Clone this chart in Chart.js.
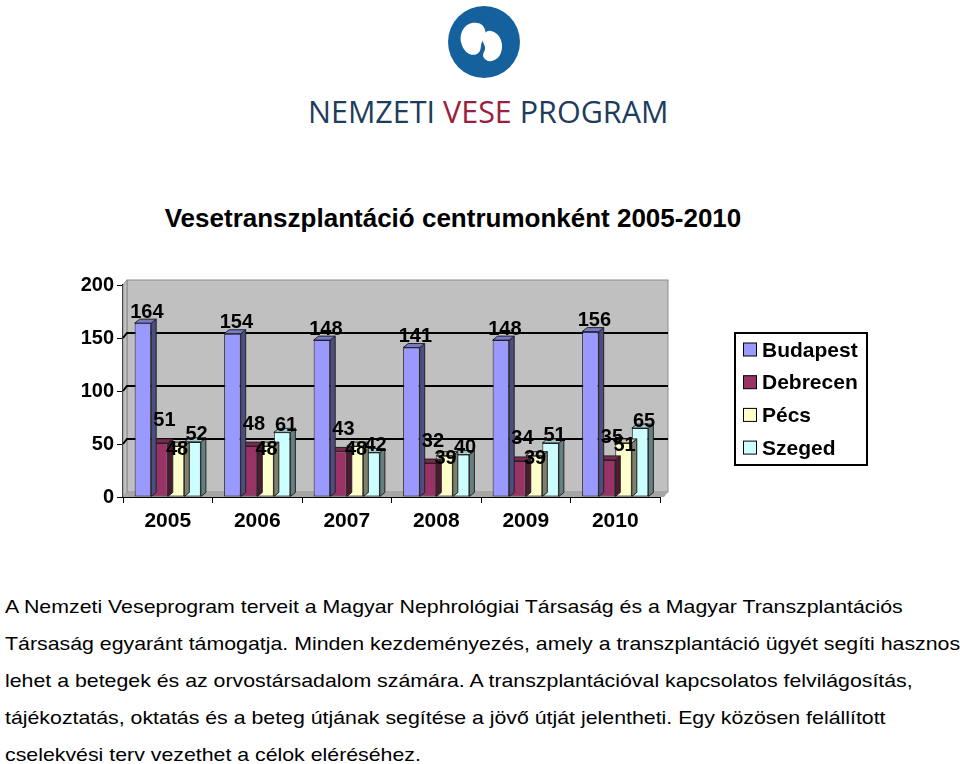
<!DOCTYPE html>
<html>
<head>
<meta charset="utf-8">
<script src="https://cdn.jsdelivr.net/npm/chart.js@4.4.1/dist/chart.umd.min.js"></script>
<style>
  html, body { margin: 0; padding: 0; background: #fff; }
  body { width: 960px; height: 764px; position: relative; overflow: hidden; font-family: "Liberation Sans", Arial, sans-serif; }
  #logo { position: absolute; left: 0; top: 0; }
  #title { position: absolute; left: 0; width: 906px; top: 203px; text-align: center; font-weight: bold; font-size: 26px; color: #000; }
  #chartBox { position: absolute; left: 0; top: 240px; width: 960px; height: 300px; }
  #txt { position: absolute; left: 5px; top: 588px; font-size: 19px; line-height: 37px; color: #000; white-space: pre; transform: scaleX(1.122); transform-origin: 0 0; }
</style>
</head>
<body>
<svg id="logo" width="960" height="140">
  <circle cx="484" cy="42" r="36" fill="#14619e"/>
  <path d="M477 23 C466 21,459 32,461 42 C463 52,471 57,477 54 C482 51,480 46,482 42 C484 38,487 35,485 30 C484 26,481 23,477 23 Z" fill="#fff"/>
  <path d="M491 31 C501 33,505 46,500 55 C496 62,487 63,484 58 C481 54,486 51,485 47 C484 43,481 40,483 36 C485 32,488 30,491 31 Z" fill="#fff"/>
  <text x="308" y="123" font-family="Open Sans, Lato, sans-serif" font-size="30.5" fill="#1e3d5c">NEMZETI <tspan fill="#9b2040">VESE</tspan> PROGRAM</text>
</svg>
<div id="title">Vesetranszplantáció centrumonként 2005-2010</div>
<div id="chartBox"><canvas id="c" width="960" height="300"></canvas></div>
<div id="txt">A Nemzeti Veseprogram terveit a Magyar Nephrológiai Társaság és a Magyar Transzplantációs
Társaság egyaránt támogatja. Minden kezdeményezés, amely a transzplantáció ügyét segíti hasznos
lehet a betegek és az orvostársadalom számára. A transzplantációval kapcsolatos felvilágosítás,
tájékoztatás, oktatás és a beteg útjának segítése a jövő útját jelentheti. Egy közösen felállított
cselekvési terv vezethet a célok eléréséhez.</div>
<script>
const years = ['2005', '2006', '2007', '2008', '2009', '2010'];
const budapest = [164, 154, 148, 141, 148, 156];
const debrecen = [51, 48, 43, 32, 34, 35];
const pecs = [48, 48, 48, 39, 39, 51];
const szeged = [52, 61, 42, 40, 51, 65];
const yTicks = [0, 50, 100, 150, 200];

const FONT = '"Liberation Sans", Arial, sans-serif';
// front, side, top colour per centre + label offset (Excel places them a bit oddly)
const looks = [
  { front: '#9999ff', side: '#4d4d80', top: '#7a7acc', lx: 4, ly: -11 },
  { front: '#993366', side: '#4d1a33', top: '#7a2952', lx: 5, ly: -22 },
  { front: '#ffffcc', side: '#80806a', top: '#ccccaa', lx: 1, ly: 3 },
  { front: '#ccffff', side: '#668080', top: '#a3cccc', lx: 4, ly: -7 }
];
const DX = 5, DY = 4;

// back wall, floor and grid of the 3D plot
const wallPlugin = {
  id: 'wall',
  beforeDatasetsDraw(chart) {
    const { ctx, chartArea: a, scales: { y } } = chart;
    const wx = 4, wy = 5;
    ctx.save();
    ctx.fillStyle = '#c0c0c0';
    ctx.strokeStyle = '#8c8c8c';
    ctx.lineWidth = 1;
    ctx.fillRect(a.left + wx, a.top - wy, a.right + 8 - a.left - wx, a.bottom - a.top);
    ctx.strokeRect(a.left + wx, a.top - wy, a.right + 8 - a.left - wx, a.bottom - a.top);
    ctx.beginPath();
    ctx.moveTo(a.left, a.top); ctx.lineTo(a.left + wx, a.top - wy);
    ctx.lineTo(a.left + wx, a.bottom - wy); ctx.lineTo(a.left, a.bottom); ctx.closePath();
    ctx.fill(); ctx.stroke();
    ctx.fillStyle = '#a6a6a6';
    ctx.beginPath();
    ctx.moveTo(a.left, a.bottom); ctx.lineTo(a.left + wx, a.bottom - wy);
    ctx.lineTo(a.right + 8, a.bottom - wy); ctx.lineTo(a.right + 4, a.bottom); ctx.closePath();
    ctx.fill();
    ctx.strokeStyle = '#000';
    ctx.lineWidth = 2;
    yTicks.filter(v => v > 0 && v < 200).forEach(v => {
      const py = y.getPixelForValue(v);
      ctx.beginPath();
      ctx.moveTo(a.left, py); ctx.lineTo(a.left + wx, py - wy); ctx.lineTo(a.right + 8, py - wy);
      ctx.stroke();
    });
    ctx.restore();
  },
  afterDatasetDraw(chart, args) {
    const { ctx } = chart;
    const lk = looks[args.index];
    ctx.save();
    ctx.strokeStyle = '#222';
    ctx.lineWidth = 1;
    args.meta.data.forEach(bar => {
      const { x, y, base, width } = bar.getProps(['x', 'y', 'base', 'width'], true);
      const l = x - width / 2, r = x + width / 2;
      ctx.fillStyle = lk.side;
      ctx.beginPath();
      ctx.moveTo(r, y); ctx.lineTo(r + DX, y - DY); ctx.lineTo(r + DX, base - DY); ctx.lineTo(r, base); ctx.closePath();
      ctx.fill(); ctx.stroke();
      ctx.fillStyle = lk.top;
      ctx.beginPath();
      ctx.moveTo(l, y); ctx.lineTo(l + DX, y - DY); ctx.lineTo(r + DX, y - DY); ctx.lineTo(r, y); ctx.closePath();
      ctx.fill(); ctx.stroke();
    });
    ctx.restore();
  },
  afterDatasetsDraw(chart) {
    const { ctx } = chart;
    ctx.save();
    ctx.font = 'bold 20px ' + FONT;
    ctx.fillStyle = '#000';
    ctx.textAlign = 'center';
    ctx.textBaseline = 'middle';
    chart.data.datasets.forEach((ds, i) => {
      const lk = looks[i];
      chart.getDatasetMeta(i).data.forEach((bar, j) => {
        ctx.fillText(String(ds.data[j]), bar.x + lk.lx, bar.y + lk.ly);
      });
    });
    ctx.restore();
  },
  afterDraw(chart) {
    const { ctx } = chart;
    const bx = 735, by = 93, bw = 132, bh = 132;
    ctx.save();
    ctx.fillStyle = '#fff';
    ctx.fillRect(bx, by, bw, bh);
    ctx.strokeStyle = '#000';
    ctx.lineWidth = 2;
    ctx.strokeRect(bx, by, bw, bh);
    ctx.font = 'bold 21px ' + FONT;
    ctx.textBaseline = 'middle';
    ctx.lineWidth = 1;
    chart.data.datasets.forEach((ds, i) => {
      const cy = by + 17 + i * 32.7;
      ctx.fillStyle = ds.backgroundColor;
      ctx.fillRect(743.5, cy - 7, 13, 13);
      ctx.strokeRect(743.5, cy - 7, 13, 13);
      ctx.fillStyle = '#000';
      ctx.fillText(ds.label, 762, cy + 1);
    });
    ctx.restore();
  }
};

const mk = (label, data, i) => ({
  label, data,
  backgroundColor: looks[i].front,
  borderColor: '#222',
  borderWidth: 1,
  borderSkipped: false
});

new Chart(document.getElementById('c'), {
  type: 'bar',
  data: {
    labels: years,
    datasets: [
      mk('Budapest', budapest, 0),
      mk('Debrecen', debrecen, 1),
      mk('Pécs', pecs, 2),
      mk('Szeged', szeged, 3)
    ]
  },
  options: {
    responsive: false,
    animation: false,
    layout: { padding: { top: 45, right: 300, left: 0, bottom: 0 } },
    datasets: { bar: { categoryPercentage: 0.74, barPercentage: 1.0 } },
    plugins: { legend: { display: false }, tooltip: { enabled: false } },
    scales: {
      x: {
        afterFit(s) { s.height = 43; },
        grid: { drawOnChartArea: false, offset: true, tickLength: 6, color: '#000', lineWidth: 1 },
        border: { color: '#000', width: 2 },
        ticks: { color: '#000', font: { family: FONT, size: 21, weight: 'bold' }, padding: 6 }
      },
      y: {
        min: 0, max: 200,
        afterFit(s) { s.width = 123; },
        afterBuildTicks(s) { s.ticks = yTicks.map(v => ({ value: v })); },
        grid: { drawOnChartArea: false, tickLength: 6, color: '#000', lineWidth: 1 },
        border: { color: '#000', width: 2 },
        ticks: { color: '#000', font: { family: FONT, size: 20, weight: 'bold' }, padding: 3 }
      }
    }
  },
  plugins: [wallPlugin]
});
</script>
</body>
</html>
